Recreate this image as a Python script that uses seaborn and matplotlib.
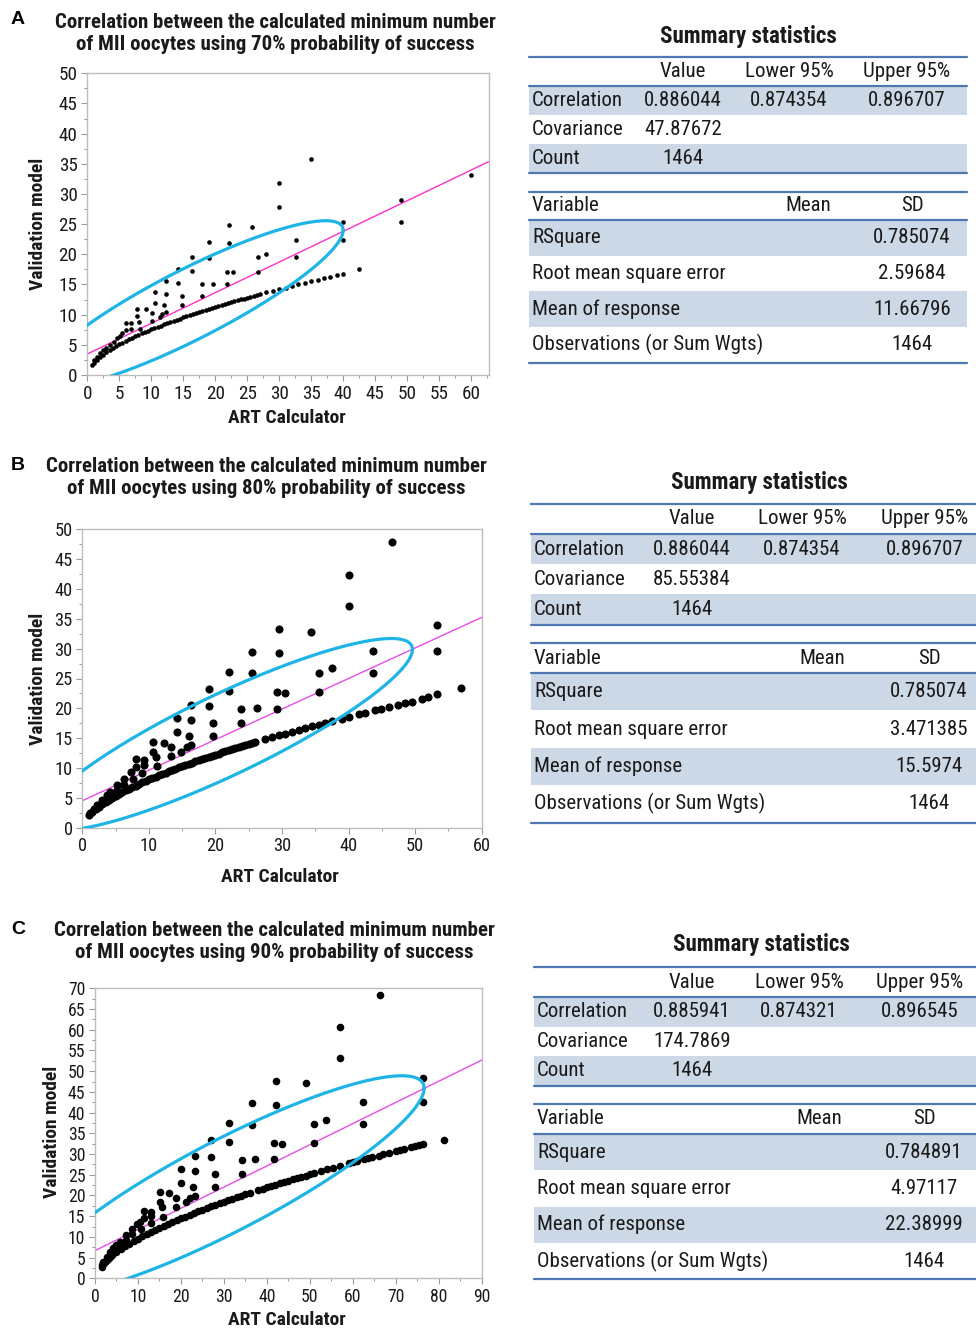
import numpy as np
import pandas as pd
import matplotlib
matplotlib.use('Agg')
import matplotlib.pyplot as plt
from matplotlib.patches import Rectangle
from matplotlib.ticker import MultipleLocator
import seaborn as sns

"""
Validation model vs ART Calculator: three scatter panels (70/80/90 %)
each with a density ellipse, a fit line and a summary statistics table
"""

W, H = 976, 1330

# ---------------- panel A : 70 % ----------------
a_curve_x = [0.7, 1, 1.5, 2, 2.5, 3, 3.5, 4, 4.5, 5, 5.5, 6, 6.5, 7, 7.5, 8, 8.5, 9, 9.5, 10,
             10.5, 11, 11.5, 12, 12.5, 13, 13.5, 14, 14.5, 15, 15.5, 16, 16.5, 17, 17.5, 18,
             18.5, 19, 19.5, 20, 20.5, 21, 21.5, 22, 22.5, 23, 23.5, 24, 24.5, 25, 25.5, 26,
             26.5, 27, 28, 29, 30, 31, 32, 33, 34, 35, 36, 37, 38, 39, 40, 42.5]
a_curve_y = [1.63, 2.0, 2.53, 2.98, 3.39, 3.77, 4.12, 4.45, 4.76, 5.06, 5.35, 5.62, 5.89, 6.15,
             6.40, 6.64, 6.88, 7.11, 7.34, 7.55, 7.77, 7.98, 8.19, 8.39, 8.59, 8.78, 8.98, 9.16,
             9.36, 9.53, 9.72, 9.89, 10.08, 10.24, 10.43, 10.58, 10.77, 10.91, 11.10, 11.24,
             11.43, 11.59, 11.74, 11.90, 12.06, 12.21, 12.36, 12.52, 12.67, 12.81, 12.96, 13.11,
             13.25, 13.40, 13.68, 13.96, 14.23, 14.50, 14.78, 15.05, 15.30, 15.56, 15.82, 16.07,
             16.32, 16.56, 16.81, 17.6]
a_out_x = [34.9, 30.0, 30.0, 60.0, 49.0, 49.0, 40.0, 40.0, 32.7, 32.7, 25.8, 22.2, 22.2, 19.1,
           19.1, 26.7, 28.0, 26.7, 21.9, 22.7, 21.9, 19.7, 17.9, 17.9, 16.4, 16.4, 14.2, 14.2,
           14.8, 14.8, 12.3, 12.3, 12.0, 10.6, 10.6, 12.3, 11.7, 11.3, 9.1, 10.1, 10.1, 7.8,
           7.8, 8.1, 8.3, 6.0, 6.8, 6.8, 6.0, 5.4, 5.1, 4.6, 4.1, 3.5, 3.0, 2.5, 2.0, 1.5, 1.0]
a_out_y = [35.8, 31.8, 27.8, 33.1, 29.0, 25.4, 25.4, 22.3, 22.3, 19.5, 24.6, 24.9, 21.9, 22.1,
           19.4, 19.5, 20.1, 17.1, 17.1, 17.0, 15.0, 15.1, 15.1, 13.1, 19.6, 17.3, 17.5, 15.3,
           13.1, 11.6, 15.5, 13.5, 11.6, 13.7, 12.0, 10.4, 10.1, 9.6, 10.9, 10.2, 8.95, 10.9,
           9.7, 8.8, 7.7, 8.7, 8.7, 7.7, 7.5, 7.0, 6.4, 6.1, 5.5, 5.0, 4.4, 4.1, 3.7, 3.0, 2.5]
a_fit = (3.48, 0.508)                     # intercept, slope
a_ellipse = (16.0, 11.67, 24.0, 13.9)     # centre x, centre y, half width, half height

# ---------------- panel B : 80 % ----------------
b_curve_x = [1.05, 1.5, 2, 2.5, 3, 3.5, 4, 4.5, 5, 5.5, 6, 6.5, 7, 7.5, 8, 8.5, 9, 9.5, 10,
             10.5, 11, 11.5, 12, 12.5, 13, 13.5, 14, 14.5, 15, 15.5, 16, 16.5, 17, 17.5, 18,
             18.5, 19, 19.5, 20, 20.5, 21, 21.5, 22, 22.5, 23, 23.5, 24, 24.5, 25, 25.5, 26,
             27.5, 28.5, 29.5, 30.5, 31.5, 32.5, 33.5, 34.5, 35.5, 36.5, 37.5, 39, 40, 41.5,
             42.5, 44, 44.8, 46, 47.5, 48.5, 49.5, 51, 52, 53.3, 56.9]
b_curve_y = [2.09, 2.59, 3.08, 3.52, 3.92, 4.31, 4.66, 5.01, 5.33, 5.65, 5.95, 6.24, 6.52, 6.80,
             7.07, 7.33, 7.59, 7.83, 8.08, 8.32, 8.56, 8.79, 9.02, 9.24, 9.46, 9.68, 9.89, 10.10,
             10.31, 10.51, 10.71, 10.91, 11.11, 11.31, 11.50, 11.69, 11.88, 12.06, 12.25, 12.43,
             12.61, 12.79, 12.97, 13.15, 13.32, 13.50, 13.66, 13.84, 14.00, 14.17, 14.34,
             14.82, 15.15, 15.47, 15.78, 16.09, 16.39, 16.69, 16.98, 17.28, 17.57, 17.86, 18.29,
             18.57, 18.98, 19.26, 19.65, 19.87, 20.19, 20.59, 20.85, 21.11, 21.6, 21.9, 22.4, 23.4]
b_out_x = [46.5, 40.0, 40.0, 29.6, 34.4, 53.3, 53.3, 43.6, 43.6, 37.5, 35.6, 35.6, 29.6, 25.5,
           25.5, 22.0, 22.0, 19.0, 19.0, 29.2, 30.4, 29.2, 26.2, 23.9, 23.9, 19.6, 19.6, 16.4,
           16.4, 16.1, 16.3, 15.8, 14.2, 14.2, 14.9, 13.3, 13.3, 12.2, 10.6, 10.6, 11.0, 11.2,
           9.2, 9.2, 9.0, 8.0, 8.0, 7.3, 7.6, 6.2, 6.2, 5.2, 5.2, 4.2, 3.7, 2.9, 2.2, 1.7, 1.2]
b_out_y = [47.9, 42.3, 37.2, 33.3, 32.8, 33.9, 29.6, 29.6, 26.0, 26.7, 25.9, 22.7, 29.2, 29.5,
           25.9, 26.1, 22.9, 23.2, 20.4, 22.7, 22.5, 19.9, 20.0, 19.9, 17.5, 17.5, 15.4, 20.6,
           18.0, 15.4, 13.9, 13.6, 18.3, 16.1, 12.7, 13.5, 12.0, 14.2, 14.4, 12.7, 11.9, 10.3,
           11.3, 10.5, 9.2, 11.5, 10.2, 9.3, 8.2, 8.2, 7.2, 7.2, 6.3, 6.0, 5.4, 4.6, 3.8, 3.2, 2.4]
b_fit = (4.52, 0.512)
b_ellipse = (21.5, 15.6, 28.1, 16.1)

# ---------------- panel C : 90 % ----------------
c_curve_x = [1.55, 2, 2.5, 3, 3.5, 4, 5, 6, 7, 8, 9, 10, 11, 12, 13, 14, 15, 16, 17, 18, 19, 20,
             21, 22, 23, 24, 25, 26, 27, 28, 29, 30, 31, 32, 33, 34, 35, 36, 38, 39, 40, 41, 42,
             43, 44, 45, 46, 47, 48, 49, 50, 51, 52.5, 54, 55.5, 57, 59, 60, 61, 62.5, 63.5,
             64.5, 66, 67, 68.5, 70, 71, 72, 73.5, 74.5, 75.5, 76.3, 81.2]
c_curve_y = [3.12, 3.64, 4.16, 4.64, 5.09, 5.51, 6.30, 7.03, 7.71, 8.36, 8.97, 9.55, 10.12, 10.66,
             11.18, 11.69, 12.19, 12.67, 13.14, 13.60, 14.04, 14.48, 14.91, 15.34, 15.74, 16.15,
             16.56, 16.94, 17.35, 17.71, 18.10, 18.48, 18.84, 19.20, 19.56, 19.92, 20.26, 20.59,
             21.29, 21.62, 21.96, 22.27, 22.61, 22.92, 23.23, 23.57, 23.88, 24.17, 24.48, 24.79,
             25.10, 25.39, 25.85, 26.28, 26.71, 27.14, 27.72, 27.98, 28.27, 28.68, 28.97, 29.23,
             29.64, 29.93, 30.31, 30.70, 30.98, 31.25, 31.63, 31.90, 32.14, 32.3, 33.5]
c_out_x = [66.3, 57.1, 57.1, 76.3, 76.3, 62.4, 62.4, 49.1, 42.2, 42.2, 36.5, 36.5, 53.7, 50.9,
           50.9, 41.7, 43.6, 41.7, 37.3, 34.1, 34.1, 31.3, 31.3, 26.9, 26.9, 28.0, 28.0, 23.3,
           23.3, 22.9, 23.3, 22.1, 20.1, 20.1, 21.2, 18.9, 18.9, 17.3, 15.1, 15.1, 15.5, 15.8,
           13.0, 13.0, 13.0, 11.3, 11.3, 10.5, 9.7, 10.6, 8.5, 8.5, 7.2, 7.2, 5.8, 5.0, 4.3,
           3.5, 2.7, 1.9, 1.55]
c_out_y = [68.5, 60.7, 53.1, 48.4, 42.5, 42.5, 37.2, 47.1, 47.6, 41.8, 42.3, 37.0, 38.2, 37.2,
           32.6, 32.6, 32.3, 28.7, 28.7, 28.6, 25.1, 37.4, 33.0, 33.4, 29.2, 25.1, 22.1, 29.5,
           25.9, 22.1, 19.9, 19.3, 26.3, 23.1, 18.3, 19.5, 17.1, 20.5, 20.8, 18.3, 17.1, 14.9,
           16.1, 15.0, 13.4, 16.3, 14.6, 13.7, 13.1, 11.8, 11.8, 10.7, 10.5, 9.25, 8.85, 8.0,
           7.2, 6.4, 5.2, 4.0, 2.8]
c_fit = (6.68, 0.511)
c_ellipse = (30.7, 22.39, 45.9, 26.5)

corr_r = 0.886

# ---------------- summary statistics ----------------
titles = ["Correlation between the calculated minimum number\nof MII oocytes using 70% probability of success",
          "Correlation between the calculated minimum number\nof MII oocytes using 80% probability of success",
          "Correlation between the calculated minimum number\nof MII oocytes using 90% probability of success"]
corr_header = ["Value", "Lower 95%", "Upper 95%"]
corr_labels = ["Correlation", "Covariance", "Count"]
fit_header = ["Variable", "Mean", "SD"]
fit_labels = ["RSquare", "Root mean square error", "Mean of response", "Observations (or Sum Wgts)"]

a_corr = ["0.886044", "0.874354", "0.896707"]
b_corr = ["0.886044", "0.874354", "0.896707"]
c_corr = ["0.885941", "0.874321", "0.896545"]
covariance = ["47.87672", "85.55384", "174.7869"]
count = ["1464", "1464", "1464"]
a_sd = ["0.785074", "2.59684", "11.66796", "1464"]
b_sd = ["0.785074", "3.471385", "15.5974", "1464"]
c_sd = ["0.784891", "4.97117", "22.38999", "1464"]

# ---------------- layout (pixels) ----------------
plots = [
    dict(letter="A", box=(87.3, 73.3, 489, 375), xlim=62.8, ylim=50, xmaj=5, ymaj=5, s=11,
         title=(275, 33), lett=(18, 20), xl=(0.497, -0.142), yl=(-0.123, 0.5), fs=13.8,
         line="#ff30c8"),
    dict(letter="B", box=(82.3, 529.3, 481.7, 827.7), xlim=60, ylim=50, xmaj=10, ymaj=5, s=34,
         title=(266, 478), lett=(18, 465), xl=(0.494, -0.165), yl=(-0.111, 0.5), fs=13.2,
         line="#e84ce8"),
    dict(letter="C", box=(95, 988.3, 481.7, 1278.3), xlim=90, ylim=70, xmaj=10, ymaj=5, s=30,
         title=(274, 941), lett=(18, 930), xl=(0.495, -0.144), yl=(-0.111, 0.504), fs=12.7,
         line="#e84ce8"),
]
tables = [
    dict(x0=529, x1=967, ty=36, t1=57, h1=86, r1=29.0, t2=191.5, h2=220, r2=35.7,
         lab=532, cols=[683, 789, 907], mean=808, sd=912),
    dict(x0=531, x1=976, ty=482, t1=504, h1=534, r1=30.2, t2=643, h2=673, r2=37.4,
         lab=534, cols=[692, 802, 925], mean=822, sd=929),
    dict(x0=534, x1=976, ty=945, t1=967, h1=997, r1=29.5, t2=1104, h2=1134, r2=36.3,
         lab=537, cols=[692, 799, 920], mean=819, sd=924),
]

curves = [(a_curve_x, a_curve_y, a_out_x, a_out_y), (b_curve_x, b_curve_y, b_out_x, b_out_y),
          (c_curve_x, c_curve_y, c_out_x, c_out_y)]
fits = [a_fit, b_fit, c_fit]
ellipses = [a_ellipse, b_ellipse, c_ellipse]
corrs = [a_corr, b_corr, c_corr]
sds = [a_sd, b_sd, c_sd]

sns.set_theme(style="ticks")
plt.rcParams['font.family'] = ['Roboto Condensed', 'DejaVu Sans']

fig = plt.figure(figsize=(W / 100, H / 100), dpi=100)

# overlay in pixel coordinates for the tables and titles
tab = fig.add_axes([0, 0, 1, 1])
tab.set_xlim(0, W)
tab.set_ylim(H, 0)
tab.axis('off')

shade = "#cdd8e6"
rule = "#4f77b0"
ink = "#1a1a1a"
tfs = 15

for i, p in enumerate(plots):
    l, t, r, b = p["box"]
    ax = fig.add_axes([l / W, 1 - b / H, (r - l) / W, (b - t) / H])
    cx, cy, ox, oy = curves[i]
    df = pd.DataFrame({"art": list(cx) + list(ox), "val": list(cy) + list(oy)})
    sns.scatterplot(data=df, x="art", y="val", ax=ax, color="black", s=p["s"],
                    linewidth=0, zorder=3, legend=False)

    b0, b1 = fits[i]
    ax.axline((0, b0), slope=b1, color=p["line"], lw=1.0, zorder=2)

    mx, my, hx, hy = ellipses[i]
    t_ = np.linspace(0, 2 * np.pi, 400)
    ex = mx + hx * np.cos(t_)
    ey = my + hy * (corr_r * np.cos(t_) + np.sqrt(1 - corr_r ** 2) * np.sin(t_))
    ax.plot(ex, ey, color="#1eb4e6", lw=2.3, zorder=4)

    ax.set_xlim(0, p["xlim"])
    ax.set_ylim(0, p["ylim"])
    ax.xaxis.set_major_locator(MultipleLocator(p["xmaj"]))
    ax.xaxis.set_minor_locator(MultipleLocator(p["xmaj"] / 2))
    ax.yaxis.set_major_locator(MultipleLocator(p["ymaj"]))
    ax.yaxis.set_minor_locator(MultipleLocator(p["ymaj"] / 2))
    ax.tick_params(which="major", direction="out", length=4, width=0.8, color="#9a9a9a",
                   labelsize=p["fs"], labelcolor=ink, pad=3)
    ax.tick_params(which="minor", direction="out", length=2.5, width=0.7, color="#9a9a9a")
    for sp in ax.spines.values():
        sp.set_visible(True)
        sp.set_color("#bdbdbd")
        sp.set_linewidth(1.0)

    ax.set_xlabel("ART Calculator", fontsize=14, fontweight="bold", color=ink)
    ax.set_ylabel("Validation model", fontsize=14, fontweight="bold", color=ink)
    ax.xaxis.set_label_coords(*p["xl"])
    ax.yaxis.set_label_coords(*p["yl"])
    ax.xaxis.label.set_va("center")
    ax.yaxis.label.set_va("center")

    tab.text(p["lett"][0], p["lett"][1], p["letter"], fontsize=14, fontweight="bold",
             family=["Liberation Sans", "DejaVu Sans"], ha="center", va="center", color="black")
    tab.text(p["title"][0], p["title"][1], titles[i], fontsize=15, fontweight="bold",
             ha="center", va="center", color=ink, linespacing=1.2)

    # ---- summary statistics table ----
    g = tables[i]
    x0, x1 = g["x0"], g["x1"]
    tab.text((x0 + x1) / 2 + (0 if i == 0 else 6), g["ty"], "Summary statistics", fontsize=16.5,
             fontweight="bold", ha="center", va="center", color=ink)

    # correlation block
    rows1 = [[corr_labels[0]] + corrs[i], [corr_labels[1], covariance[i], "", ""],
             [corr_labels[2], count[i], "", ""]]
    for k, row in enumerate(rows1):
        y0 = g["h1"] + k * g["r1"]
        if k % 2 == 0:
            tab.add_patch(Rectangle((x0, y0), x1 - x0, g["r1"], color=shade, lw=0, zorder=0))
        yc = y0 + g["r1"] / 2
        tab.text(g["lab"], yc, row[0], fontsize=tfs, ha="left", va="center", color=ink)
        for c, v in zip(g["cols"], row[1:]):
            tab.text(c, yc, v, fontsize=tfs, ha="center", va="center", color=ink)
    for c, v in zip(g["cols"], corr_header):
        tab.text(c, (g["t1"] + g["h1"]) / 2, v, fontsize=tfs, ha="center", va="center", color=ink)
    b1y = g["h1"] + 3 * g["r1"]
    for yy in [g["t1"], g["h1"], b1y]:
        tab.plot([x0, x1], [yy, yy], color=rule, lw=1.6, zorder=1)

    # fit block
    for k, lab in enumerate(fit_labels):
        y0 = g["h2"] + k * g["r2"]
        if k % 2 == 0:
            tab.add_patch(Rectangle((x0, y0), x1 - x0, g["r2"], color=shade, lw=0, zorder=0))
        yc = y0 + g["r2"] / 2
        tab.text(g["lab"], yc, lab, fontsize=tfs, ha="left", va="center", color=ink)
        tab.text(g["sd"], yc, sds[i][k], fontsize=tfs, ha="center", va="center", color=ink)
    hy2 = (g["t2"] + g["h2"]) / 2
    tab.text(g["lab"], hy2, fit_header[0], fontsize=tfs, ha="left", va="center", color=ink)
    tab.text(g["mean"], hy2, fit_header[1], fontsize=tfs, ha="center", va="center", color=ink)
    tab.text(g["sd"], hy2, fit_header[2], fontsize=tfs, ha="center", va="center", color=ink)
    b2y = g["h2"] + 4 * g["r2"]
    for yy in [g["t2"], g["h2"], b2y]:
        tab.plot([x0, x1], [yy, yy], color=rule, lw=1.6, zorder=1)

fig.savefig("out.png", dpi=100)
plt.close(fig)
